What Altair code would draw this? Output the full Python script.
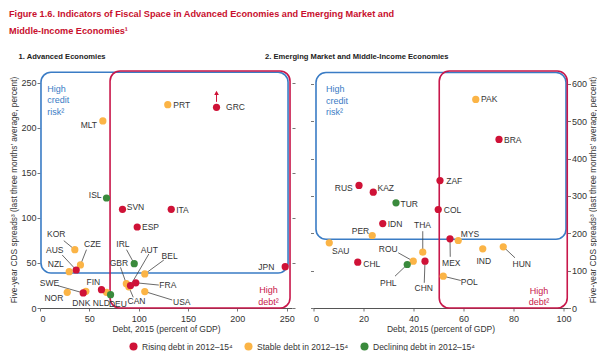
import altair as alt
import pandas as pd

FONT = "Liberation Sans, Arial, sans-serif"
RED, ORANGE, GREEN = "#cf1237", "#fbb446", "#3a8a3c"
BLUE_FRAME, RED_FRAME = "#3a7cc5", "#c8174a"

TRENDS = ["Rising debt in 2012–15⁴", "Stable debt in 2012–15⁴", "Declining debt in 2012–15⁴"]
T = {"R": TRENDS[0], "S": TRENDS[1], "D": TRENDS[2]}

# ---------------- Panel 1: Advanced Economies ----------------
adv_code = ["PRT", "MLT", "KOR", "CZE", "NZL", "GBR", "CAN", "BEL", "USA", "DNK", "NOR", "NLD",
            "ISL", "IRL", "DEU",
            "GRC", "SVN", "ITA", "ESP", "AUS", "AUT", "FRA", "JPN", "SWE", "FIN"]
adv_debt = [129.5, 63.7, 35.3, 41.0, 29.6, 87.5, 90.0, 106.2, 106.2, 46.5, 27.6, 67.4,
            67.4, 95.5, 71.5,
            178.9, 83.6, 133.0, 98.5, 36.7, 91.7, 97.1, 248.5, 43.8, 62.3]
adv_cds = [225.9, 207.8, 64.8, 47.8, 40.3, 27.0, 23.5, 37.8, 18.3, 18.5, 17.4, 17.4,
           122.2, 49.2, 14.8,
           223.0, 109.6, 109.6, 90.0, 42.2, 25.0, 28.0, 45.9, 16.7, 20.4]
adv_trend = ["S", "S", "S", "S", "S", "S", "S", "S", "S", "S", "S", "S",
             "D", "D", "D",
             "R", "R", "R", "R", "R", "R", "R", "R", "R", "R"]
adv_lab_x = [143.7, 49.5, 16.4, 53.2, 16.0, 79.9, 97.8, 131.4, 143.7, 41.9, 14.0, 62.2,
             55.9, 84.1, 78.9,
             198.2, 96.8, 144.4, 112.0, 15.0, 110.8, 129.6, 229.4, 9.6, 54.0]
adv_lab_y = [225.9, 203.3, 82.6, 71.4, 49.2, 50.0, 7.4, 58.1, 6.3, 5.6, 11.1, 5.6,
             125.9, 71.4, 4.4,
             223.0, 111.9, 109.3, 90.0, 64.8, 64.8, 25.5, 45.9, 27.4, 28.5]
adv_lead_x = [None, None, 24.1, 47.1, None, 81.6, 94.5, 125.5, 134.0, None, None, None,
              None, 87.7, None,
              None, None, None, None, 22.5, 110.3, 120.4, None, 18.1, None]
adv_lead_y = [None, None, 74.8, 64.8, None, 45.2, 11.9, 53.3, 8.9, None, None, None,
              None, 64.8, None,
              None, None, None, None, 58.9, 60.0, 25.5, None, 24.8, None]
# Greece: off-scale arrow
grc_arrow_x = [178.9]
grc_arrow_y = [229.0]
grc_arrow_y2 = [239.0]

# ---------------- Panel 2: Emerging Market and Middle-Income Economies ----------------
em_code = ["PAK", "PER", "SAU", "MYS", "THA", "IND", "HUN", "ROU", "POL",
           "TUR", "PHL",
           "BRA", "ZAF", "RUS", "KAZ", "COL", "IDN", "MEX", "CHL", "CHN"]
em_debt = [64.9, 23.5, 6.3, 57.9, 43.7, 67.7, 75.9, 39.9, 51.9,
           33.0, 37.5,
           74.2, 50.6, 18.2, 23.9, 49.9, 27.7, 54.6, 17.7, 44.6]
em_cds = [558, 194, 174.5, 180.6, 149.3, 158.4, 163.8, 125.3, 85.1,
          281.5, 116.4,
          451, 341, 328, 310, 263.6, 226, 185.2, 122.6, 125.3]
em_trend = ["S", "S", "S", "S", "S", "S", "S", "S", "S",
            "D", "D",
            "R", "R", "R", "R", "R", "R", "R", "R", "R"]
em_lab_x = [70.3, 18.8, 10.9, 62.6, 43.6, 68.1, 83.3, 29.9, 62.3,
            38.3, 29.9,
            79.7, 56.3, 12.1, 28.9, 55.6, 32.6, 55.1, 23.3, 44.1]
em_lab_y = [558, 205.5, 152, 196.7, 223.4, 125.3, 119, 158.4, 70.1,
            277, 67.4,
            449, 339, 321.6, 321.6, 261.8, 226, 121, 118.2, 54]
em_lead_x = [None, None, None, None, 43.7, None, 80.6, 33.9, 58.9,
             None, 32.6,
             None, None, None, None, None, None, 54.7, None, 44.3]
em_lead_y = [None, None, None, None, 205.5, None, 134.3, 147.7, 73.6,
             None, 85.1,
             None, None, None, None, None, None, 137, None, 67.4]

# thresholds (frames): blue = high credit risk, red = high debt
adv_frame = {"x": [1.0, 71.0], "x2": [251.4, 253.4], "y": [38.9, 0.0], "y2": [261.9, 263.3],
             "kind": ["risk", "debt"]}
em_frame = {"x": [1.0, 50.3], "x2": [101.0, 101.5], "y": [184.0, 0.0], "y2": [630.0, 634.0],
            "kind": ["risk", "debt"]}

# annotation anchors
adv_notes = {"x": [7.3, 231.6], "y": [247.8, 23.9], "text": ["High\ncredit\nrisk²", "High\ndebt²"],
             "kind": ["risk", "debt"], "align": ["left", "center"]}
em_notes = {"x": [5.0, 90.2], "y": [595.4, 57.5], "text": ["High\ncredit\nrisk²", "High\ndebt²"],
            "kind": ["risk", "debt"], "align": ["left", "center"]}

Y_TITLE = "Five-year CDS spreads³ (last three months’ average, percent)"
X_TITLE = "Debt, 2015 (percent of GDP)"

color_scale = alt.Scale(domain=TRENDS, range=[RED, ORANGE, GREEN])
frame_scale = alt.Scale(domain=["risk", "debt"], range=[BLUE_FRAME, RED_FRAME])

legend = alt.Legend(orient="none", legendX=89, legendY=271, direction="horizontal", title=None,
                    symbolType="circle", symbolSize=65, symbolStrokeWidth=0, labelFont=FONT,
                    labelFontSize=8.5, labelColor="#333", columnPadding=11, labelLimit=200,
                    labelOffset=4)


def make_df(code, debt, cds, trend, lx, ly, ldx, ldy):
    return pd.DataFrame({"code": code, "debt": debt, "cds": cds,
                         "trend": [T[t] for t in trend], "lx": lx, "ly": ly,
                         "ldx": ldx, "ldy": ldy})


def panel(df, frames, notes, xdom, ydom, width, xvals, yvals, title, title_dx, main_orient, extra=None):
    xs = alt.Scale(domain=xdom, nice=False, zero=False)
    ys = alt.Scale(domain=ydom, nice=False, zero=False)
    x_axis = alt.Axis(values=xvals, title=X_TITLE, grid=False, domainColor="#555", tickColor="#777",
                      tickSize=3, labelFontSize=9, labelColor="#333", titleFontSize=8.5,
                      titleColor="#333", titleFontWeight="normal", labelFont=FONT, titleFont=FONT,
                      labelPadding=3, titlePadding=1)
    y_kw = dict(values=yvals, title=Y_TITLE, orient=main_orient, grid=False, domain=False,
                tickColor="#777", tickSize=3, labelFontSize=9, labelColor="#333",
                titleFontSize=8.3, titleColor="#333", titleFontWeight="normal",
                labelFont=FONT, titleFont=FONT, titleAngle=270, labelPadding=1, titlePadding=2)
    if main_orient == "right":
        y_kw["titleBaseline"] = "top"
        y_kw["titlePadding"] = 2
    main_y_axis = alt.Axis(**y_kw)
    other_orient = "right" if main_orient == "left" else "left"
    tick_axis = alt.Axis(values=yvals, orient=other_orient, labels=False, title=None, grid=False,
                         domain=False, tickColor="#777", tickSize=3)

    fr = alt.Chart(pd.DataFrame(frames)).mark_rect(filled=False, strokeWidth=1.6, cornerRadius=10).encode(
        x=alt.X("x:Q", scale=xs, axis=None),
        x2="x2:Q",
        y=alt.Y("y:Q", scale=ys, axis=tick_axis),
        y2="y2:Q",
        stroke=alt.Stroke("kind:N", scale=frame_scale, legend=None),
    )
    lead = alt.Chart(df.dropna(subset=["ldx"])).mark_rule(color="#444", strokeWidth=0.8).encode(
        x=alt.X("ldx:Q", scale=xs, axis=None), x2="debt:Q",
        y=alt.Y("ldy:Q", scale=ys, axis=None), y2="cds:Q",
    )
    pts = alt.Chart(df).mark_circle(size=52, opacity=1).encode(
        x=alt.X("debt:Q", scale=xs, axis=x_axis),
        y=alt.Y("cds:Q", scale=ys, axis=main_y_axis),
        color=alt.Color("trend:N", scale=color_scale, legend=legend),
    )
    labs = alt.Chart(df).mark_text(font=FONT, fontSize=8.5, color="#333", align="center",
                                   baseline="middle").encode(
        x=alt.X("lx:Q", scale=xs, axis=None),
        y=alt.Y("ly:Q", scale=ys, axis=None),
        text="code:N",
    )
    nd = pd.DataFrame(notes)
    note_layers = []
    for i in range(len(nd)):
        sub = nd.iloc[[i]]
        note_layers.append(alt.Chart(sub).mark_text(
            font=FONT, fontSize=9, align=sub["align"].iloc[0], baseline="top", lineBreak="\n",
            lineHeight=11.5, color=BLUE_FRAME if sub["kind"].iloc[0] == "risk" else RED_FRAME).encode(
            x=alt.X("x:Q", scale=xs, axis=None),
            y=alt.Y("y:Q", scale=ys, axis=None),
            text="text:N",
        ))
    ttl = alt.Chart(pd.DataFrame({"t": [title]})).mark_text(
        font=FONT, fontSize=7.6, fontWeight="bold", color="#222", align="left", baseline="middle",
        dx=title_dx).encode(x=alt.value(0), y=alt.value(-14), text="t:N")
    layers = [fr, lead, pts, labs] + note_layers + [ttl]
    if extra is not None:
        layers += extra(xs, ys)
    return alt.layer(*layers).resolve_axis(x="independent", y="independent").properties(
        width=width, height=237)


def grc_arrow(xs, ys):
    d = pd.DataFrame({"x": grc_arrow_x, "y": grc_arrow_y, "y2": grc_arrow_y2})
    rule = alt.Chart(d).mark_rule(color=RED, strokeWidth=1).encode(
        x=alt.X("x:Q", scale=xs, axis=None), y=alt.Y("y:Q", scale=ys, axis=None), y2="y2:Q")
    tri = alt.Chart(d).mark_point(shape="triangle-up", filled=True, size=22, color=RED, opacity=1).encode(
        x=alt.X("x:Q", scale=xs, axis=None), y=alt.Y("y2:Q", scale=ys, axis=None))
    return [rule, tri]


adv = make_df(adv_code, adv_debt, adv_cds, adv_trend, adv_lab_x, adv_lab_y, adv_lead_x, adv_lead_y)
em = make_df(em_code, em_debt, em_cds, em_trend, em_lab_x, em_lab_y, em_lead_x, em_lead_y)

p1 = panel(adv, adv_frame, adv_notes, [0, 255.4], [0, 263.3], 252, [0, 50, 100, 150, 200, 250],
           [0, 50, 100, 150, 200, 250], "1. Advanced Economies", -21.5, "left", grc_arrow)
p2 = panel(em, em_frame, em_notes, [0, 101.6], [0, 634.2], 254, [0, 20, 40, 60, 80, 100],
           [0, 100, 200, 300, 400, 500, 600], "2. Emerging Market and Middle-Income Economies",
           -48.5, "right")

chart = alt.hconcat(p1, p2, spacing=21.5, bounds="flush").resolve_scale(color="shared").properties(
    title=alt.TitleParams(
        ["Figure 1.6. Indicators of Fiscal Space in Advanced Economies and Emerging Market and",
         "Middle-Income Economies¹"],
        anchor="start", font=FONT, fontSize=9.2, fontWeight="bold", color="#c8102e", dx=-1,
        lineHeight=16.5, offset=17),
    padding={"left": 0, "top": 2, "right": 0, "bottom": 0},
).configure_view(stroke=None)

chart.save("out.html", embed_options={"renderer": "svg", "actions": False})
